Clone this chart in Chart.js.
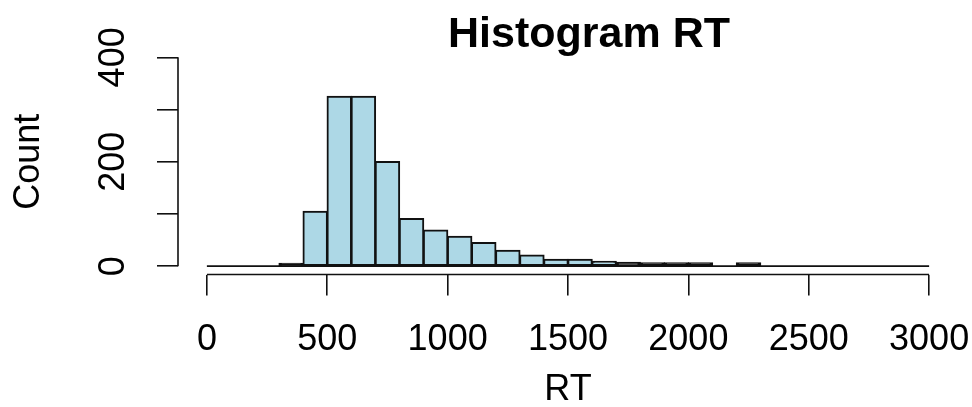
<!DOCTYPE html>
<html>
<head>
<meta charset="utf-8">
<title>Histogram RT</title>
<script src="https://cdn.jsdelivr.net/npm/chart.js@4/dist/chart.umd.min.js"></script>
<style>
    html, body { margin: 0; padding: 0; background: #fff; }
    #wrap { width: 972px; height: 407px; }
</style>
</head>
<body>
<div id="wrap"><canvas id="histChart" width="972" height="407"></canvas></div>
<script>
// bin edges of the RT histogram (ms) and the count in each bin
const breaks = [0, 100, 200, 300, 400, 500, 600, 700, 800, 900, 1000,
    1100, 1200, 1300, 1400, 1500, 1600, 1700, 1800, 1900, 2000,
    2100, 2200, 2300, 2400, 2500, 2600, 2700, 2800, 2900, 3000];
const counts = [0, 0, 0, 5, 105, 325, 325, 200, 91, 69,
    57, 45, 30, 21, 13, 13, 9, 7, 6, 6,
    6, 0, 6, 0, 0, 0, 0, 0, 0, 0];

const xTicks = [0, 500, 1000, 1500, 2000, 2500, 3000];
const yTicks = [0, 100, 200, 300, 400];
const yTickLabels = ['0', '', '200', '', '400'];

const mainTitle = 'Histogram RT';
const xTitle = 'RT';
const yTitle = 'Count';

const FONT = '"Liberation Sans", Arial, sans-serif';
const EDGE = '#111';
const FILL = '#ADD8E6';
const BAR_BORDER = 2;

const bins = counts.map((c, i) => ({ x: (breaks[i] + breaks[i + 1]) / 2, y: c }));

// a bar thinner than its two borders shows as a solid edge-coloured strip
function barFill(c) {
    if (!c.raw) return FILL;
    const y = c.chart.scales.y;
    const h = Math.abs(y.getPixelForValue(0) - y.getPixelForValue(c.raw.y));
    return h < 2 * BAR_BORDER ? EDGE : FILL;
}

// R-style axes: the line only runs from the first to the last tick
const axisLines = {
    id: 'axisLines',
    afterDraw(chart) {
        const { ctx, chartArea, scales } = chart;
        ctx.save();
        ctx.strokeStyle = EDGE;
        ctx.lineWidth = 1.6;
        ctx.beginPath();
        ctx.moveTo(scales.x.getPixelForValue(xTicks[0]), chartArea.bottom);
        ctx.lineTo(scales.x.getPixelForValue(xTicks[xTicks.length - 1]), chartArea.bottom);
        ctx.moveTo(chartArea.left, scales.y.getPixelForValue(yTicks[0]));
        ctx.lineTo(chartArea.left, scales.y.getPixelForValue(yTicks[yTicks.length - 1]));
        ctx.stroke();
        ctx.restore();
    }
};

const titlePlugin = {
    id: 'mainTitle',
    afterDraw(chart) {
        const ctx = chart.ctx;
        ctx.save();
        ctx.fillStyle = '#000';
        ctx.font = 'bold 43px ' + FONT;
        ctx.textAlign = 'center';
        ctx.textBaseline = 'alphabetic';
        ctx.fillText(mainTitle, 589, 47);
        ctx.restore();
    }
};

new Chart(document.getElementById('histChart'), {
    type: 'bar',
    data: {
        datasets: [{
            data: bins,
            backgroundColor: barFill,
            borderColor: EDGE,
            borderWidth: BAR_BORDER,
            inflateAmount: 0.7,
            borderSkipped: false,
            barPercentage: 1,
            categoryPercentage: 1
        }, {
            type: 'line',
            data: [{ x: breaks[0], y: 0 }, { x: breaks[breaks.length - 1], y: 0 }],
            borderColor: EDGE,
            borderWidth: 1.6,
            pointRadius: 0,
            fill: false
        }]
    },
    options: {
        responsive: false,
        animation: false,
        devicePixelRatio: 1,
        layout: { padding: { top: 49, right: 14, left: 0, bottom: 0 } },
        plugins: {
            legend: { display: false },
            tooltip: { enabled: false },
            title: { display: false }
        },
        scales: {
            x: {
                type: 'linear',
                min: -120,
                max: 3120,
                offset: false,
                afterBuildTicks: s => { s.ticks = xTicks.map(v => ({ value: v })); },
                afterFit: s => {
                    s.height = 132.5;
                    // let the last label hang over the plot edge, as R does
                    s.paddingLeft = 0;
                    s.paddingRight = 0;
                },
                border: { display: false },
                grid: { offset: false, drawOnChartArea: false, drawTicks: true, tickLength: 21, color: EDGE, lineWidth: 1.6 },
                ticks: {
                    color: '#000',
                    font: { family: FONT, size: 36 },
                    padding: 23,
                    maxRotation: 0,
                    autoSkip: false,
                    callback: v => String(v)
                },
                title: {
                    display: true,
                    text: xTitle,
                    color: '#000',
                    font: { family: FONT, size: 36, lineHeight: 1 },
                    padding: { top: 0, bottom: -1.5 }
                }
            },
            y: {
                min: -16,
                max: 416,
                afterBuildTicks: s => { s.ticks = yTicks.map(v => ({ value: v })); },
                afterFit: s => {
                    s.width = 178;
                    s.paddingTop = 0;
                    s.paddingBottom = 0;
                },
                border: { display: false },
                grid: { drawOnChartArea: false, drawTicks: true, tickLength: 21, color: EDGE, lineWidth: 1.6 },
                ticks: {
                    color: '#000',
                    font: { family: FONT, size: 36 },
                    padding: 13,
                    minRotation: 90,
                    crossAlign: 'center',
                    autoSkip: false,
                    callback: (v, i) => yTickLabels[i]
                },
                title: {
                    display: true,
                    text: yTitle,
                    color: '#000',
                    font: { family: FONT, size: 36, lineHeight: 1 },
                    padding: { top: 11, bottom: 0 }
                }
            }
        }
    },
    plugins: [axisLines, titlePlugin]
});
</script>
</body>
</html>
